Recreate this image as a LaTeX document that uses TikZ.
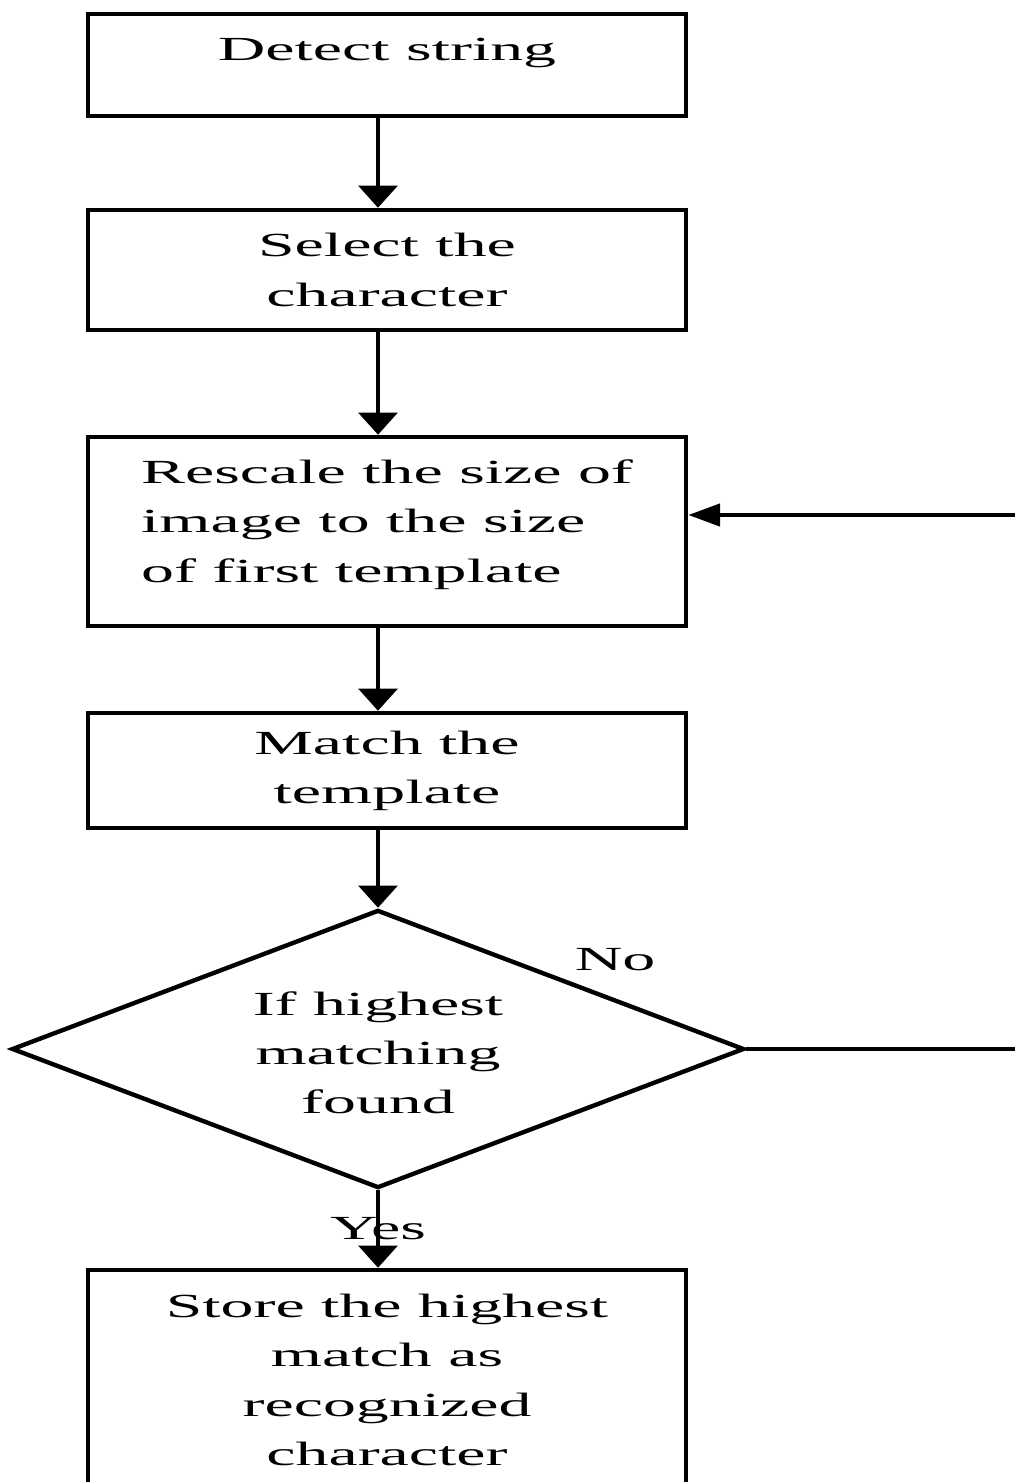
\documentclass[tikz,border=0pt]{standalone}
\usepackage{fontspec}
\setmainfont{Liberation Serif}[FakeStretch=1.95]
\usetikzlibrary{shapes.geometric,arrows.meta}
\tikzset{
  txt/.style={font=\fontsize{9.6pt}{14pt}\selectfont},
  stepbox/.style={draw, line width=1.25pt, minimum width=5.98cm, inner sep=0pt, align=center, txt},
  choice/.style={draw, diamond, aspect=2.63, line width=1.25pt, minimum width=7.32cm, minimum height=2.78cm, inner sep=0pt, align=center, txt},
  flow/.style={line width=1.25pt, -{Triangle[length=6.3pt,width=11pt]}},
  flowback/.style={line width=1.1pt, -{Triangle[length=9pt,width=6.3pt]}},
  tag/.style={txt, inner sep=0pt}
}

\begin{document}
\begin{tikzpicture}[x=0.01cm, y=-0.01cm]
				\useasboundingbox (0,0) rectangle (1014,1482);
				
				\node[stepbox, minimum height=1.02cm, text depth=9pt] (detect) at (387,65) {Detect string};
				\node[stepbox, minimum height=1.2cm] (select) at (387,270) {Select the\\character};
				\node[stepbox, minimum height=1.89cm, align=left, text depth=6pt] (rescale) at (387,531.5) {Rescale the size of\\image to the size\\of first template};
				\node[stepbox, minimum height=1.15cm] (match) at (387,770.5) {Match the\\template};
				\node[choice, text height=37pt] (found) at (378,1049) {If highest\\matching\\found};
				\node[stepbox, minimum height=2.2cm] (store) at (387,1380) {Store the highest\\match as\\recognized\\character};
				
				\coordinate (back) at (1030,515);
				
				\draw[flow] (detect.south -| found.north) -- (select.north -| found.north);
				\draw[flow] (select.south -| found.north) -- (rescale.north -| found.north);
				\draw[flow] (rescale.south -| found.north) -- (match.north -| found.north);
				\draw[flow] (match.south -| found.north) -- (found.north);
				\draw[flow] (found.south) -- node[tag] (yes) {Yes} (store.north -| found.south);
				\draw[flowback] (found.east) -| (back) -- (back -| rescale.east);
				
				\node[tag] (no) at (615,960) {No};
			\end{tikzpicture}
\end{document}
